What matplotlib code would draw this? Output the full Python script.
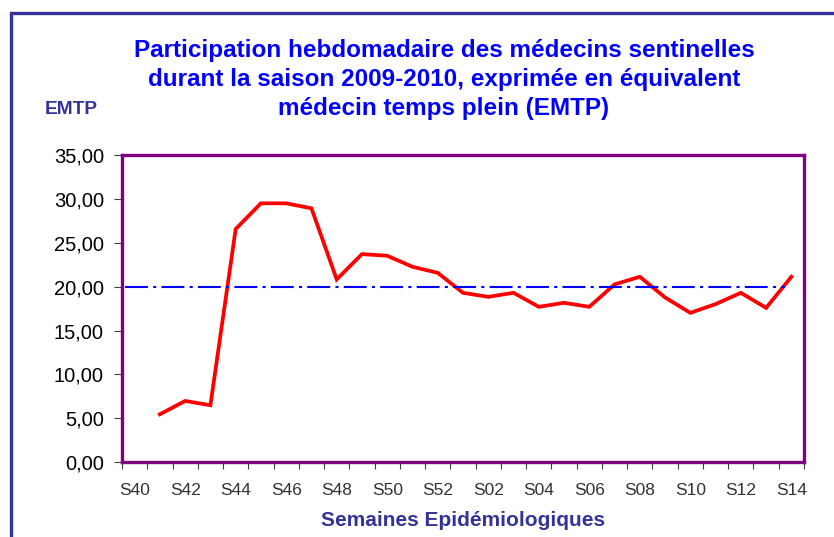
# Weekly participation of sentinel physicians, season 2009-2010 (EMTP)

import matplotlib
matplotlib.use("Agg")
import matplotlib.pyplot as plt
from matplotlib.patches import Rectangle

plt.rcParams['font.family'] = ['Liberation Sans', 'DejaVu Sans']

# categories: S40..S52 then S01..S14
weeks = ["S%02d" % w for w in range(40, 53)] + ["S%02d" % w for w in range(1, 15)]
# values from S41 to S14 (S40 has no data)
emtp = [5.45, 6.97, 6.48, 26.6, 29.54, 29.54, 28.97, 20.85, 23.74, 23.55,
        22.29, 21.6, 19.32, 18.86, 19.32, 17.72, 18.18, 17.72, 20.28, 21.15,
        18.79, 17.03, 18.03, 19.32, 17.6, 21.15]
target = 20
yticks = [0, 5, 10, 15, 20, 25, 30, 35]

fig = plt.figure(figsize=(8.34, 5.37), dpi=100)
ax = fig.add_axes([122/834, 1 - 462/537, (804 - 122)/834, (462 - 155.5)/537])

x = list(range(1, 1 + len(emtp)))
ax.plot(x, emtp, color="#FF0000", lw=2.7, solid_joinstyle="miter")
ax.hlines(target, -0.4, 25.75, color="#0000FF", lw=1.5,
          linestyle=(0, (11, 2.5, 1.5, 2.5)))

ax.set_xlim(-0.5, len(weeks) - 0.5)
ax.set_ylim(0, 35)

# tick marks between categories, labels every other week
ax.set_xticks([i - 0.5 for i in range(len(weeks) + 1)])
ax.set_xticklabels([])
ax.set_xticks(list(range(0, len(weeks), 2)), minor=True)
ax.set_xticklabels(weeks[::2], minor=True)
ax.tick_params(axis="x", which="major", length=5, width=0.8, color="#404040", direction="out")
ax.tick_params(axis="x", which="minor", length=0, pad=15, labelsize=12.5, labelcolor="#333333")

ax.set_yticks(yticks)
ax.set_yticklabels([("%.2f" % v).replace(".", ",") for v in yticks])
ax.tick_params(axis="y", length=6, width=0.8, color="#404040", labelsize=14.5, pad=7)

for s in ax.spines.values():
    s.set_color("#800080")
    s.set_linewidth(2.4)

# outer frame, partly cut off by the image edge
fig.patches.append(Rectangle((11/834, -0.2), 1.2, 1 - 13/537 + 0.2, transform=fig.transFigure,
                             fill=False, edgecolor="#333399", lw=2.4, clip_on=False))

title = ["Participation hebdomadaire des médecins sentinelles",
         "durant la saison 2009-2010, exprimée en équivalent",
         "médecin temps plein (EMTP)"]
for i, line in enumerate(title):
    fig.text(444/834, 1 - (50 + 29.5*i)/537, line, ha="center", va="center",
             fontsize=17.5, fontweight="bold", color="#0000FF")

fig.text(71/834, 1 - 110/537, "EMTP", ha="center", va="center",
         fontsize=13.8, fontweight="bold", color="#333399")
fig.text(463/834, 1 - 520/537, "Semaines Epidémiologiques", ha="center", va="center",
         fontsize=15, fontweight="bold", color="#333399")

plt.savefig("out.png", dpi=100)
